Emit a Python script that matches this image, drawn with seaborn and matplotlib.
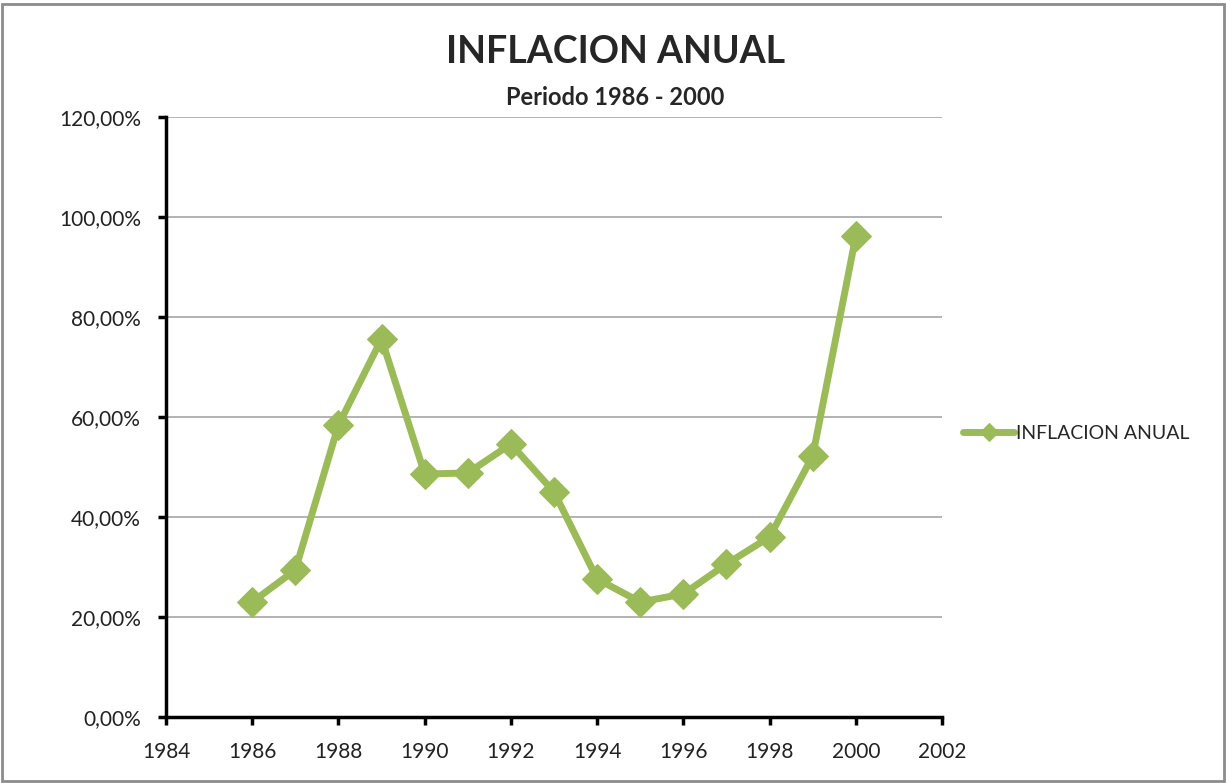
import matplotlib
matplotlib.use('Agg')
from matplotlib import pyplot as plt
from matplotlib.patches import Rectangle
from matplotlib.ticker import FuncFormatter
import pandas as pd
import seaborn as sns


years = [1986, 1987, 1988, 1989, 1990, 1991, 1992, 1993,
         1994, 1995, 1996, 1997, 1998, 1999, 2000]
inflacion = [23.0, 29.4, 58.4, 75.6, 48.6, 48.8, 54.6, 45.0,
             27.6, 23.0, 24.6, 30.6, 36.0, 52.2, 96.2]
series_name = 'INFLACION ANUAL'
green = '#9BBB59'


def pct_fmt(v, pos):
	return '{:.2f}%'.format(v).replace('.', ',')


df = pd.DataFrame({'Year': years, 'Inflacion': inflacion})

sns.set_style('white')
plt.rcParams['font.family'] = ['Lato', 'DejaVu Sans']

fig = plt.figure(figsize=(12.26, 7.83), dpi=100)
ax = fig.add_axes([0.1354, 0.0843, 0.633, 0.7663])

sns.lineplot(data=df, x='Year', y='Inflacion', ax=ax, color=green,
	linewidth=5, marker='D', markersize=15, markeredgecolor=green,
	label=series_name)

ax.set_xlim(1984, 2002)
ax.set_ylim(0, 120)
ax.set_xticks(range(1984, 2003, 2))
ax.set_yticks(range(0, 121, 20))
ax.yaxis.set_major_formatter(FuncFormatter(pct_fmt))
ax.grid(axis='y', color='#A6A6A6', linewidth=1.2)
ax.set_axisbelow(True)
ax.set_xlabel('')
ax.set_ylabel('')

for side in ['top', 'right']:
	ax.spines[side].set_visible(False)
for side in ['left', 'bottom']:
	ax.spines[side].set_color('black')
	ax.spines[side].set_linewidth(2.5)

ax.tick_params(axis='both', direction='out', length=6, width=2.5,
	color='black', labelsize=15, labelcolor='#222222', left=True, bottom=True)
ax.tick_params(axis='y', pad=12)
ax.tick_params(axis='x', pad=12)

leg = ax.legend(loc='center left', bbox_to_anchor=(1.005, 0.472), frameon=False,
	fontsize=14, handlelength=2.6, handletextpad=0.1, markerscale=0.6)
for h in leg.get_lines():
	h.set_linewidth(5)

fig.text(0.502, 0.933, 'INFLACION ANUAL', ha='center', va='center',
	fontsize=27, fontweight='bold')
fig.text(0.502, 0.876, 'Periodo 1986 - 2000', ha='center', va='center',
	fontsize=17, fontweight='bold')

fig.patches.append(Rectangle((0.002, 0.002), 0.996, 0.993, transform=fig.transFigure,
	fill=False, edgecolor='#8C8C8C', linewidth=2))

plt.savefig('out.png', dpi=100)
